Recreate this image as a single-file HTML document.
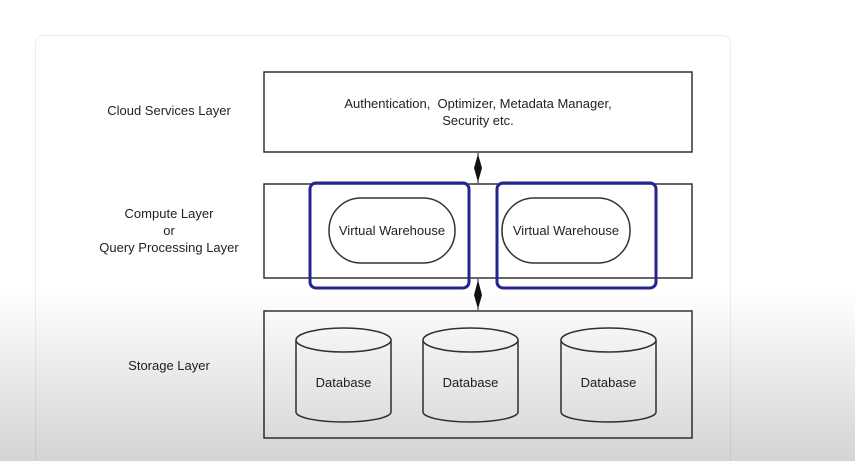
<!DOCTYPE html>
<html><head><style>
html,body{margin:0;padding:0;width:855px;height:461px;overflow:hidden;background:#fff;font-family:"Liberation Sans",sans-serif;}
#wrap{position:relative;width:855px;height:461px;overflow:hidden;}
.card{position:absolute;left:35px;top:35px;width:694px;height:440px;border:1px solid #f3eaf0;border-radius:8px;background:#fff;}
.ov{position:absolute;left:0;top:290px;width:855px;height:171px;background:linear-gradient(to bottom,rgba(0,0,0,0),rgba(0,0,0,0.17));pointer-events:none;}
svg{position:absolute;left:0;top:0;}
</style></head><body><div id="wrap">
<div class="card"></div>
<svg width="855" height="461" font-family="Liberation Sans, sans-serif" fill="#222" font-size="13">
<g stroke="#333" stroke-width="1.5" fill="#fff">
<rect x="264" y="72" width="428" height="80"/>
<rect x="264" y="184" width="428" height="94"/>
<rect x="264" y="311" width="428" height="127"/>
<rect x="329" y="198" width="126" height="65" rx="32"/>
<rect x="502" y="198" width="128" height="65" rx="32"/>
</g>
<g stroke="#242490" stroke-width="3" fill="none">
<rect x="310" y="183" width="159" height="105" rx="6"/>
<rect x="497" y="183" width="159" height="105" rx="6"/>
</g>
<g fill="#111">
<line x1="478" y1="153" x2="478" y2="183" stroke="#111" stroke-width="1"/>
<polygon points="478,154 482,168 478,182 474,168"/>
<line x1="478" y1="279" x2="478" y2="310" stroke="#111" stroke-width="1"/>
<polygon points="478,280 482,295 478,309 474,295"/>
</g>
<g stroke="#333" stroke-width="1.5" fill="#fff">
<path d="M296,340 v72 a47.5,10 0 0 0 95,0 v-72"/><ellipse cx="343.5" cy="340" rx="47.5" ry="12"/>
<path d="M423,340 v72 a47.5,10 0 0 0 95,0 v-72"/><ellipse cx="470.5" cy="340" rx="47.5" ry="12"/>
<path d="M561,340 v72 a47.5,10 0 0 0 95,0 v-72"/><ellipse cx="608.5" cy="340" rx="47.5" ry="12"/>
</g>
<g text-anchor="middle">
<text x="169" y="115">Cloud Services Layer</text>
<text x="169" y="218">Compute Layer</text>
<text x="169" y="235">or</text>
<text x="169" y="252">Query Processing Layer</text>
<text x="169" y="370">Storage Layer</text>
<text x="478" y="108" xml:space="preserve">Authentication,  Optimizer, Metadata Manager,</text>
<text x="478" y="125">Security etc.</text>
<text x="392" y="235">Virtual Warehouse</text>
<text x="566" y="235">Virtual Warehouse</text>
<text x="343.5" y="387">Database</text>
<text x="470.5" y="387">Database</text>
<text x="608.5" y="387">Database</text>
</g>
</svg>
<div class="ov"></div>
</div></body></html>
